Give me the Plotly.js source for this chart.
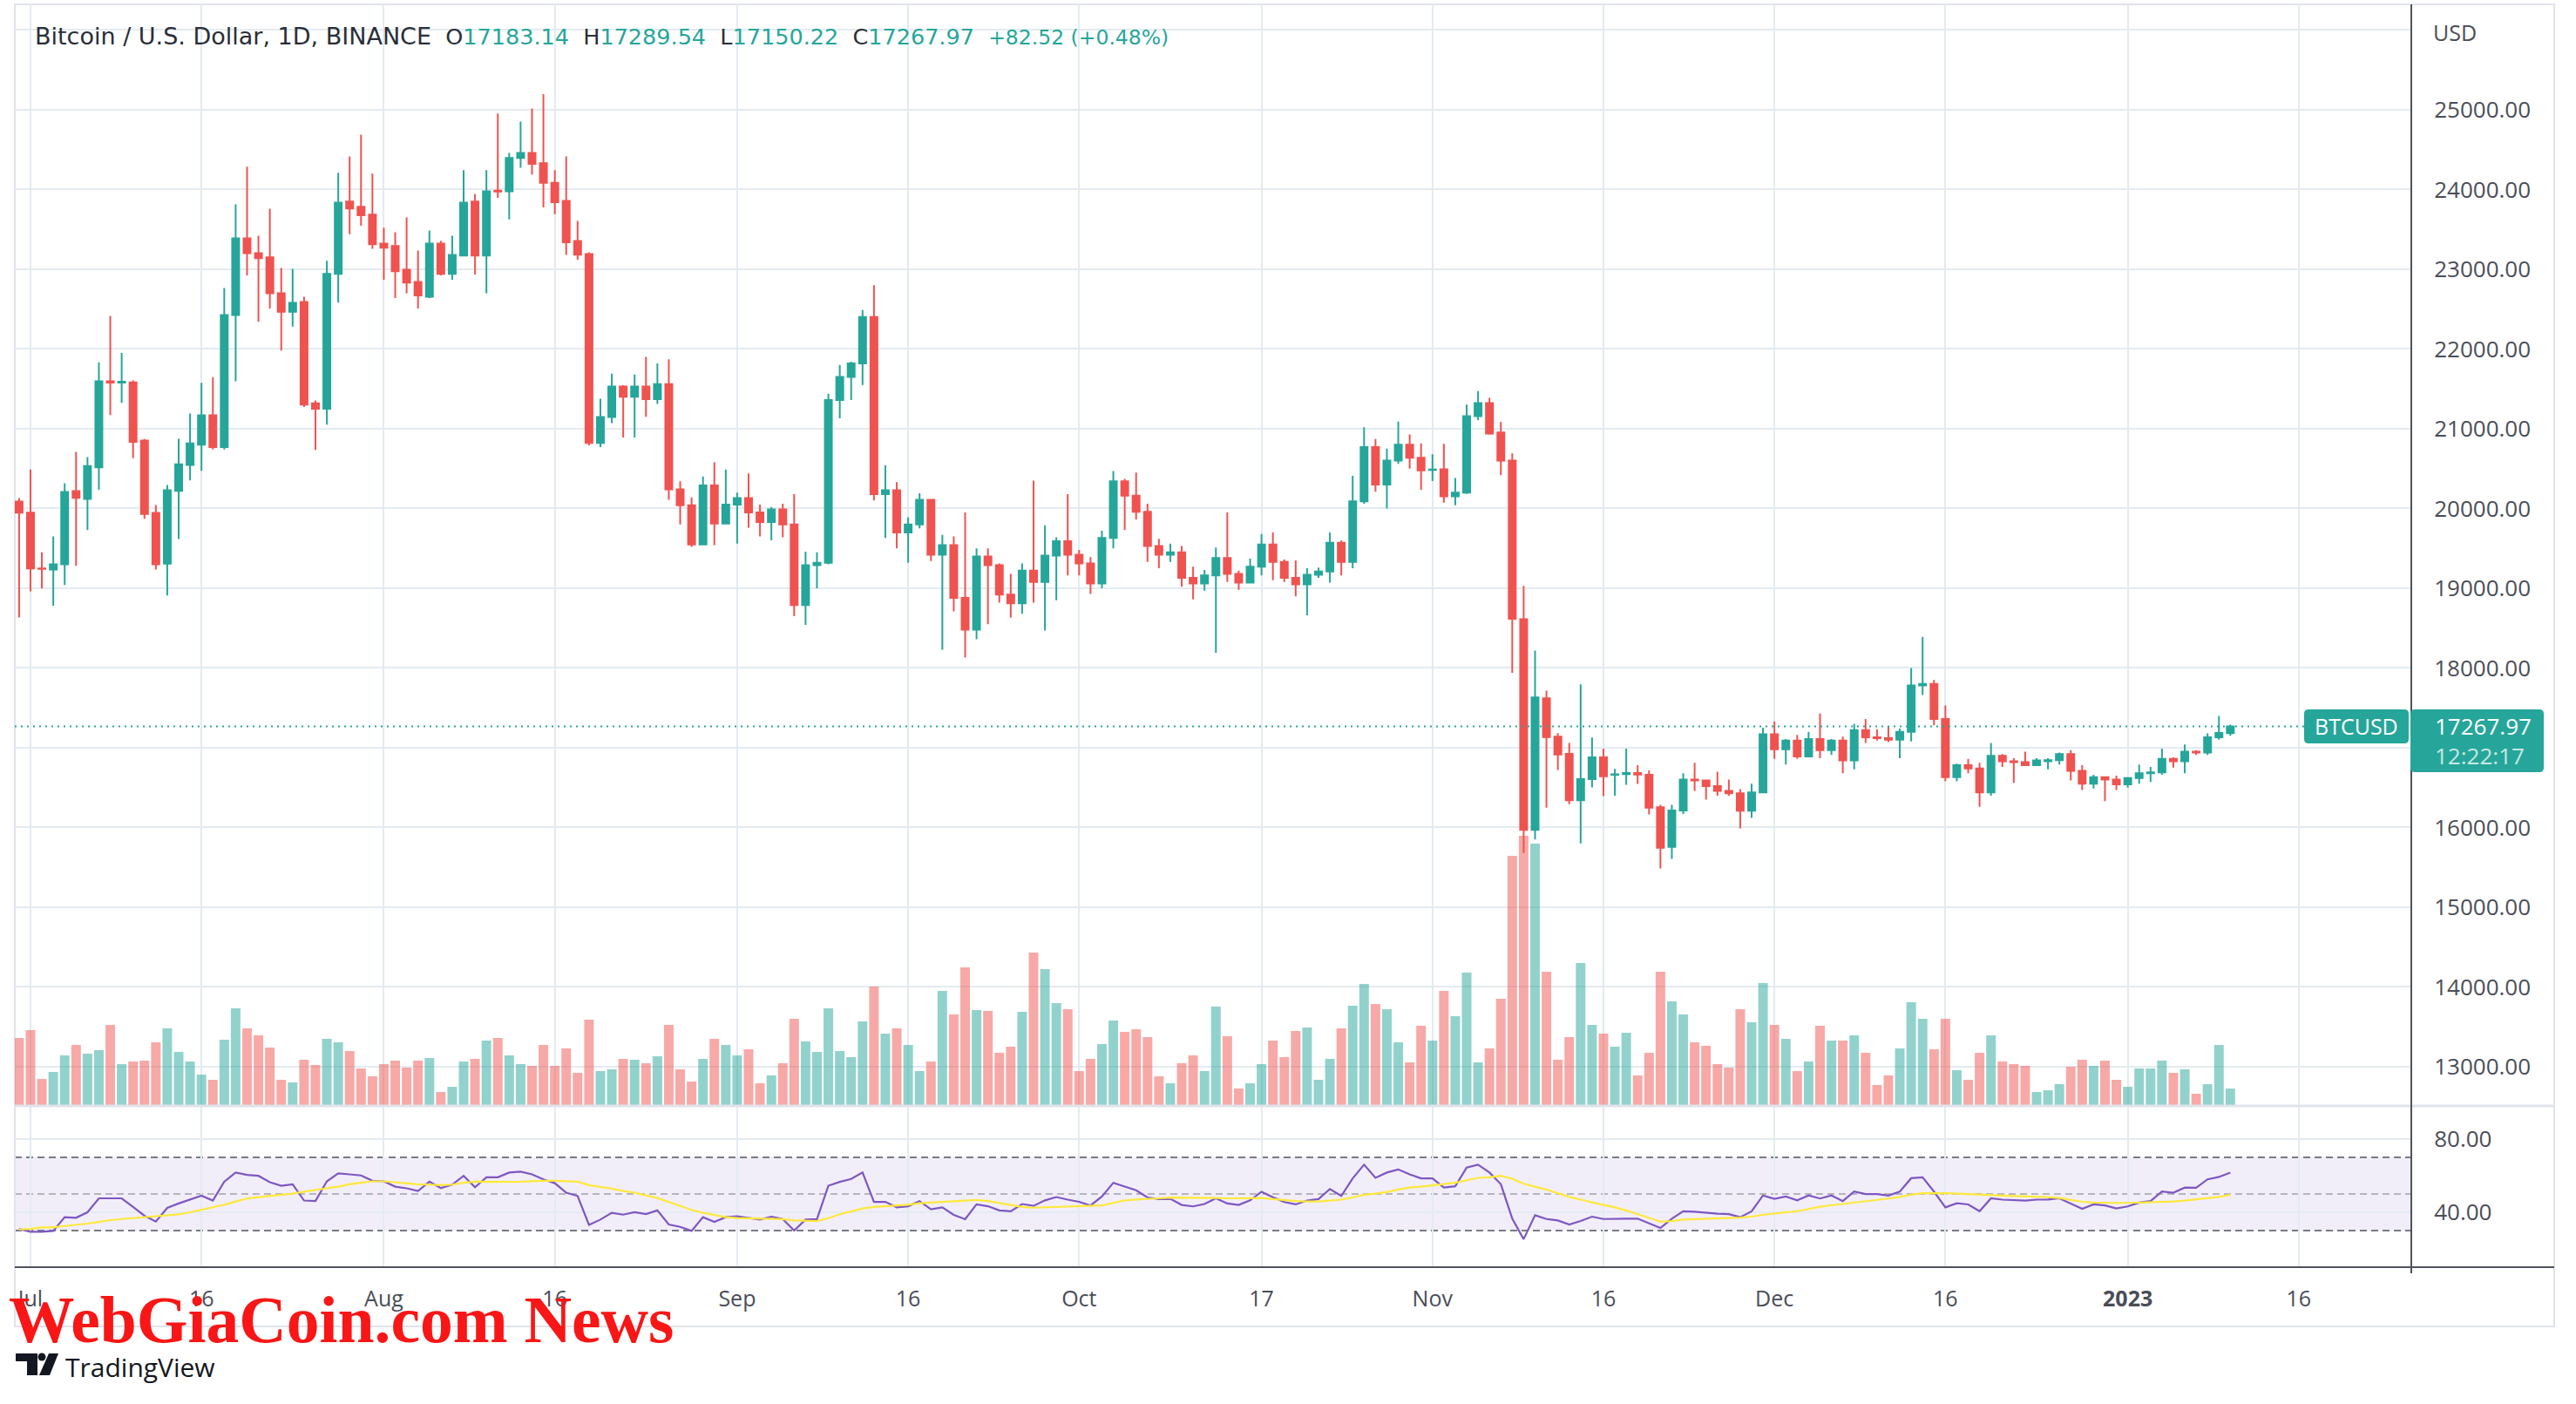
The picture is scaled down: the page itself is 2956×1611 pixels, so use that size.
<!DOCTYPE html>
<html>
<head>
<meta charset="utf-8">
<script src="https://cdn.plot.ly/plotly-3.0.1.min.js"></script>
<style>
  html, body { margin: 0; padding: 0; background: #fff; }
  #chart { width: 2956px; height: 1611px; }
</style>
</head>
<body>
<div id="chart"></div>
<script>
// daily BTCUSD candles, 2022-06-30 .. 2023-01-10 (one row of numbers per month)
const open = [
    20087,
    19949, 19249, 19235, 19300, 20217, 20121, 20515, 21596, 21580, 21583, 20852, 19944, 19308, 20221, 20545, 20800, 21168, 20770, 22427, 23387, 23201, 23149, 22699, 22466, 22591, 21320, 21250, 22941, 23850, 23785, 23685,
    23322, 23292, 22993, 22842, 22656, 23322, 22941, 23171, 23850, 23171, 23985, 23979, 24395, 24459, 24330, 24083, 23858, 23356, 23192, 20822, 21146, 21530, 21400, 21530, 21370, 21560, 20240, 20040, 19550, 20290, 19810,
    20050, 20130, 19950, 19830, 19990, 19800, 18790, 19290, 19320, 21360, 21650, 21820, 22400, 20180, 20230, 19700, 19800, 20110, 19420, 19540, 18880, 18480, 19400, 19290, 18920, 18810, 19220, 19080, 19410, 19590,
    19420, 19310, 19060, 19630, 20340, 20160, 19960, 19530, 19420, 19450, 19130, 19060, 19160, 19380, 19180, 19070, 19270, 19550, 19330, 19130, 19050, 19170, 19210, 19570, 19330, 20090, 20770, 20300, 20600, 20800, 20636,
    20482, 20491, 20152, 20200, 21158, 21321, 20952, 20600, 18612, 15970, 17619, 17140, 16922, 16340, 16607, 16879, 16660, 16670, 16682, 16661, 16255, 15758, 16213, 16600, 16590, 16520, 16460, 16430, 16210, 16440,
    17170, 16980, 17090, 16890, 17110, 16970, 17090, 16840, 17220, 17130, 17120, 17100, 17200, 17780, 17800, 17360, 16630, 16780, 16740, 16440, 16900, 16830, 16820, 16780, 16830, 16845, 16920, 16710, 16550, 16630, 16600,
    16540, 16620, 16680, 16690, 16860, 16830, 16950, 16940, 17130, 17183.14
]
const high = [
    20130,
    20489, 19451, 19650, 20316, 20710, 20645, 21834, 22414, 21951, 21605, 20870, 20044, 20294, 20874, 21190, 21575, 21648, 22765, 23815, 24286, 23421, 23759, 23015, 23006, 22656, 21354, 23106, 24209, 24416, 24689, 24200,
    23521, 23465, 23651, 23235, 23486, 23357, 23421, 24243, 23945, 24243, 24952, 24459, 24853, 25017, 25195, 24243, 24416, 23607, 23214, 21376, 21690, 21545, 21680, 21900, 21820, 21870, 20340, 20140, 20400, 20580, 20490,
    20200, 20440, 20050, 20020, 20060, 20180, 19460, 19450, 21440, 21800, 21840, 22490, 22800, 20540, 20330, 19890, 20190, 20110, 19670, 19650, 19950, 19500, 19500, 19310, 19180, 19310, 20350, 19790, 19640, 20180,
    19480, 19390, 19720, 20470, 20370, 20450, 20060, 19620, 19560, 19530, 19270, 19230, 19510, 19950, 19220, 19370, 19680, 19700, 19360, 19350, 19250, 19260, 19700, 19600, 20410, 21020, 20870, 20750, 21090, 20930, 20818,
    20679, 20812, 20382, 21303, 21473, 21388, 21085, 20691, 19030, 18218, 17716, 17182, 17061, 17794, 17128, 16988, 16734, 16988, 16782, 16716, 16285, 16285, 16680, 16810, 16600, 16700, 16600, 16480, 16550, 17250,
    17330, 17110, 17160, 17200, 17430, 17110, 17140, 17300, 17360, 17230, 17270, 17240, 18000, 18390, 17850, 17530, 16800, 16860, 16810, 17060, 16920, 16870, 16950, 16870, 16870, 16940, 16970, 16780, 16660, 16640, 16650,
    16630, 16790, 16760, 16990, 16880, 17040, 16970, 17180, 17400, 17289.54
]
const low = [
    18633,
    18962, 18997, 18781, 19040, 19282, 19728, 20234, 21172, 21324, 20632, 19870, 19235, 18910, 19616, 20351, 20472, 20740, 20740, 21596, 22924, 22340, 22509, 21981, 22280, 21272, 20735, 21051, 22582, 23439, 23547, 23257,
    22868, 22639, 22699, 22509, 22639, 22924, 22868, 23162, 22933, 22699, 23897, 23625, 24273, 24187, 23776, 23690, 23179, 23119, 20792, 20770, 21070, 20890, 20890, 21150, 21310, 20110, 19800, 19520, 19540, 19540, 19800,
    19560, 19760, 19650, 19600, 19640, 18650, 18540, 19000, 19300, 21130, 21360, 21550, 20100, 19630, 19500, 19320, 19750, 19340, 18230, 18710, 18130, 18360, 18550, 18820, 18630, 18680, 18820, 18470, 18850, 19160,
    19160, 18930, 19000, 19500, 19730, 19860, 19330, 19250, 19330, 19020, 18860, 18970, 18190, 19080, 18980, 19070, 19160, 19100, 19080, 18900, 18660, 19130, 19070, 19160, 19250, 20060, 20210, 20000, 20560, 20500, 20236,
    20345, 20073, 20042, 20182, 21109, 20927, 20418, 17940, 15680, 15849, 16249, 16722, 16291, 15800, 16503, 16394, 16400, 16534, 16546, 16164, 15485, 15607, 16170, 16460, 16350, 16400, 16400, 15990, 16120, 16440,
    16860, 16790, 16860, 16880, 16870, 16910, 16680, 16730, 17060, 17090, 17070, 16870, 17080, 17660, 17280, 16580, 16580, 16680, 16260, 16400, 16760, 16560, 16770, 16780, 16730, 16790, 16590, 16470, 16490, 16330, 16470,
    16500, 16550, 16570, 16660, 16750, 16680, 16910, 16910, 17100, 17150.22
]
const close = [
    19949,
    19248, 19243, 19300, 20208, 20134, 20532, 21596, 21580, 21590, 20835, 19931, 19300, 20230, 20554, 20818, 21168, 20770, 22427, 23387, 23201, 23140, 22699, 22466, 22578, 21302, 21250, 22941, 23837, 23763, 23677, 23313,
    23270, 22976, 22833, 22673, 23322, 22941, 23179, 23837, 23171, 23979, 23975, 24395, 24459, 24321, 24083, 23841, 23339, 23183, 20822, 21146, 21530, 21400, 21530, 21370, 21560, 20240, 20040, 19550, 20290, 19810, 20050,
    20130, 19950, 19830, 19990, 19800, 18790, 19290, 19320, 21360, 21650, 21820, 22400, 20180, 20230, 19700, 19800, 20110, 19420, 19540, 18880, 18480, 19400, 19290, 18920, 18810, 19220, 19080, 19410, 19590, 19420,
    19310, 19060, 19630, 20340, 20160, 19960, 19530, 19420, 19450, 19130, 19060, 19160, 19380, 19180, 19070, 19270, 19550, 19330, 19130, 19050, 19170, 19210, 19570, 19330, 20090, 20770, 20300, 20600, 20800, 20636, 20479,
    20488, 20152, 20200, 21158, 21321, 20939, 20600, 18618, 15970, 17631, 17134, 16916, 16340, 16607, 16879, 16643, 16667, 16682, 16665, 16249, 15746, 16213, 16600, 16590, 16520, 16460, 16430, 16210, 16440, 17170,
    16980, 17090, 16890, 17110, 16970, 17090, 16840, 17220, 17130, 17120, 17100, 17200, 17780, 17800, 17360, 16630, 16780, 16740, 16440, 16900, 16830, 16820, 16780, 16840, 16845, 16920, 16710, 16550, 16630, 16600, 16540,
    16620, 16680, 16690, 16860, 16830, 16950, 16940, 17130, 17185.45, 17267.97
]
// volume, read as bar height in screen px above the pane bottom (unlabelled scale)
const volume = [
    77,
    86, 30, 38, 57, 69, 59, 63, 92, 47, 50, 51, 72, 88, 61, 50, 35, 29, 75, 111, 88, 80, 66, 29, 26, 52, 46, 76, 72, 62, 42, 33,
    47, 51, 43, 51, 54, 15, 21, 50, 53, 74, 77, 57, 47, 45, 69, 45, 65, 37, 98, 39, 41, 53, 52, 48, 56, 92, 41, 27, 53, 76, 69,
    57, 64, 25, 34, 48, 99, 73, 61, 111, 62, 55, 96, 136, 82, 88, 69, 39, 50, 131, 104, 158, 109, 108, 60, 67, 107, 175, 156, 117, 110,
    39, 53, 70, 97, 84, 87, 78, 33, 25, 48, 57, 39, 113, 79, 19, 25, 47, 74, 55, 85, 89, 29, 53, 88, 114, 139, 116, 110, 72, 49, 91,
    74, 131, 102, 152, 49, 65, 122, 286, 309, 300, 153, 52, 78, 163, 92, 82, 67, 83, 34, 60, 153, 119, 104, 72, 68, 47, 43, 110, 95, 140,
    92, 76, 39, 50, 91, 74, 74, 80, 60, 23, 34, 65, 118, 99, 64, 99, 40, 29, 60, 80, 50, 47, 45, 15, 17, 24, 44, 52, 45, 51, 29,
    21, 42, 42, 51, 37, 41, 13, 24, 69, 19
]
const rsi = [
    30.9,
    29.3, 29.3, 29.8, 37.3, 37.0, 40.0, 47.6, 47.6, 47.6, 42.9, 38.1, 34.9, 42.4, 44.8, 46.9, 49.1, 46.4, 56.7, 61.7, 60.4, 59.9, 56.4, 54.5, 55.3, 46.4, 46.1, 56.9, 61.2, 60.7, 60.1, 57.2,
    56.9, 54.0, 53.1, 51.6, 56.7, 53.2, 55.1, 59.9, 53.7, 59.1, 59.1, 61.7, 62.2, 60.7, 58.0, 55.9, 50.7, 48.9, 33.1, 36.0, 39.7, 38.7, 40.0, 39.0, 41.0, 33.3, 32.0, 29.8, 37.3, 34.7, 37.3,
    37.8, 37.0, 36.0, 37.5, 36.3, 30.0, 36.0, 36.2, 54.5, 56.6, 58.2, 61.7, 45.6, 45.7, 42.7, 43.3, 46.1, 41.6, 42.7, 38.6, 36.2, 44.3, 43.3, 41.0, 40.5, 44.5, 43.5, 46.5, 48.3, 46.9,
    45.7, 43.7, 48.6, 56.1, 54.0, 52.0, 48.1, 47.2, 47.3, 44.0, 43.2, 44.5, 47.6, 44.8, 44.0, 46.5, 51.2, 48.2, 45.6, 44.3, 46.4, 47.2, 52.7, 48.9, 58.5, 66.0, 58.8, 61.7, 63.4, 60.7, 58.5,
    58.5, 53.5, 54.2, 64.4, 66.0, 61.7, 55.3, 36.5, 25.3, 38.4, 36.3, 35.5, 33.3, 35.2, 37.6, 36.3, 36.5, 36.5, 36.5, 33.9, 31.4, 36.5, 40.5, 40.3, 39.7, 39.2, 39.0, 37.3, 40.5, 49.2,
    47.3, 48.6, 46.5, 49.2, 47.5, 49.2, 46.1, 51.3, 49.9, 49.9, 49.1, 51.3, 58.6, 59.1, 51.3, 42.7, 44.9, 44.3, 40.6, 47.6, 46.9, 46.7, 46.4, 46.9, 47.0, 47.6, 44.8, 41.9, 44.3, 43.7, 42.1,
    43.2, 45.3, 46.1, 51.3, 50.7, 53.5, 53.4, 58.0, 59.3, 61.7
]
const rsiMa = [
    30.6,
    30.9, 31.7, 31.7, 32.5, 33.0, 33.8, 34.7, 35.7, 36.3, 36.8, 37.3, 37.6, 38.2, 38.9, 40.0, 41.4, 42.7, 44.1, 45.9, 47.5, 48.3, 48.9, 49.4, 50.2, 51.2, 52.0, 53.1, 54.0, 55.3, 56.1, 56.9,
    56.9, 56.3, 55.8, 55.3, 55.1, 54.8, 55.1, 56.1, 56.7, 56.6, 56.4, 56.6, 56.7, 57.1, 57.2, 57.2, 57.1, 56.7, 54.8, 53.9, 52.9, 51.6, 50.7, 49.2, 47.8, 45.6, 43.3, 41.3, 39.7, 38.4, 37.3,
    36.8, 36.7, 36.7, 36.5, 36.2, 35.5, 35.2, 35.2, 36.8, 38.9, 40.4, 42.1, 42.9, 43.3, 43.7, 44.1, 44.9, 45.3, 45.6, 46.1, 46.4, 46.7, 46.1, 45.1, 44.1, 42.9, 42.5, 42.7, 42.9, 43.0,
    43.0, 43.3, 43.7, 45.1, 46.5, 47.0, 47.2, 47.6, 48.0, 48.0, 48.0, 47.8, 47.8, 47.6, 47.6, 47.8, 47.8, 47.2, 46.5, 46.1, 45.9, 45.9, 46.4, 46.9, 48.1, 49.6, 50.2, 51.0, 52.4, 53.5, 54.0,
    54.7, 55.6, 56.1, 57.5, 58.8, 59.1, 59.9, 58.3, 55.6, 54.0, 52.4, 50.4, 48.4, 46.9, 45.3, 44.0, 42.7, 41.0, 38.9, 36.8, 34.9, 35.2, 36.0, 36.2, 36.3, 36.5, 36.8, 37.1, 37.6, 38.6,
    39.2, 39.8, 40.6, 41.8, 43.0, 43.8, 44.5, 45.4, 46.2, 46.9, 47.5, 48.4, 49.6, 50.4, 50.5, 50.4, 50.2, 49.9, 49.4, 49.2, 49.1, 48.9, 48.8, 48.4, 48.3, 47.8, 46.9, 45.7, 45.3, 45.1, 45.1,
    45.1, 45.3, 45.4, 45.6, 45.9, 46.4, 47.0, 47.6, 48.4, 49.6
]

const timeTicks = ['2022-07-01', '2022-07-16', '2022-08-01', '2022-08-16', '2022-09-01', '2022-09-16', '2022-10-01',
    '2022-10-17', '2022-11-01', '2022-11-16', '2022-12-01', '2022-12-16', '2023-01-01', '2023-01-16']
const timeLabels = ['Jul', '16', 'Aug', '16', 'Sep', '16', 'Oct', '17', 'Nov', '16', 'Dec', '16', '<b>2023</b>', '16']
const priceTicks = [13000, 14000, 15000, 16000, 17000, 18000, 19000, 20000, 21000, 22000, 23000, 24000, 25000, 26000]
const rsiTicks = [40, 80]

const UP = '#26a69a', DOWN = '#ef5350'
const GRID = '#e3ebf1'

// plot box in page pixels
const W = 2956, H = 1611
const L = 17, R = 2767, T = 5, B = 1454
function px(x) { return (x - L) / (R - L) }
function py(y) { return (B - y) / (B - T) }

const day0 = Date.UTC(2022, 5, 30)
const days = close.map((_, i) => new Date(day0 + i * 86400000).toISOString().slice(0, 10))
const volColors = close.map((c, i) => c >= open[i] ? 'rgba(38,166,154,0.5)' : 'rgba(239,83,80,0.5)')

const last = close.length - 1
const change = close[last] - close[last - 1]
const changePct = change / close[last - 1] * 100

function roundBox(x0, y0, x1, y1, r) {
    const P = (x, y) => px(x) + ',' + py(y)
    return 'M' + P(x0 + r, y0) + ' L' + P(x1 - r, y0) + ' Q' + P(x1, y0) + ' ' + P(x1, y0 + r) +
        ' L' + P(x1, y1 - r) + ' Q' + P(x1, y1) + ' ' + P(x1 - r, y1) +
        ' L' + P(x0 + r, y1) + ' Q' + P(x0, y1) + ' ' + P(x0, y1 - r) +
        ' L' + P(x0, y0 + r) + ' Q' + P(x0, y0) + ' ' + P(x0 + r, y0) + ' Z'
}
function poly(points) {
    return 'M' + points.map(p => px(p[0]) + ',' + py(p[1])).join(' L') + ' Z'
}
function hline(y, yref, color, dash, layer) {
    return {type: 'line', xref: 'paper', x0: 0, x1: 1, yref: yref, y0: y, y1: y,
        line: {color: color, width: 2, dash: dash}, layer: layer}
}

const traces = [
    {
        type: 'bar', x: days, y: volume, xaxis: 'x', yaxis: 'y',
        marker: {color: volColors, line: {width: 0}}, hoverinfo: 'skip'
    },
    {
        type: 'candlestick', x: days, open: open, high: high, low: low, close: close,
        xaxis: 'x', yaxis: 'y3',
        increasing: {line: {color: UP, width: 2}, fillcolor: UP},
        decreasing: {line: {color: DOWN, width: 2}, fillcolor: DOWN},
        whiskerwidth: 0, hoverinfo: 'skip'
    },
    {
        type: 'scatter', mode: 'lines', x: days, y: rsi, xaxis: 'x', yaxis: 'y2',
        line: {color: '#7e57c2', width: 2.2}, hoverinfo: 'skip'
    },
    {
        type: 'scatter', mode: 'lines', x: days, y: rsiMa, xaxis: 'x', yaxis: 'y2',
        line: {color: '#fde93b', width: 2.2}, hoverinfo: 'skip'
    }
]

const gap = '&nbsp;&nbsp;'
const teal = s => '<span style="color:' + UP + '">' + s + '</span>'
const header = '<span style="font-size:27px">Bitcoin / U.S. Dollar, 1D, BINANCE</span>' +
    gap + 'O' + teal(open[last].toFixed(2)) +
    gap + 'H' + teal(high[last].toFixed(2)) +
    gap + 'L' + teal(low[last].toFixed(2)) +
    gap + 'C' + teal(close[last].toFixed(2)) +
    '&nbsp; <span style="color:' + UP + ';font-size:23.5px">+' + change.toFixed(2) +
    ' (+' + changePct.toFixed(2) + '%)</span>'

const layout = {
    width: W, height: H,
    margin: {l: L, r: W - R, t: T, b: H - B},
    paper_bgcolor: '#ffffff', plot_bgcolor: '#ffffff',
    showlegend: false,
    bargap: 0.16,
    boxgap: 0.39, boxgroupgap: 0,
    font: {family: 'Open Sans, sans-serif', size: 25, color: '#4a4d57'},
    xaxis: {
        type: 'date', anchor: 'y2',
        range: ['2022-06-29 15:00', '2023-01-25 21:00'],
        tickmode: 'array', tickvals: timeTicks, ticktext: timeLabels,
        ticks: 'outside', ticklen: 14, tickcolor: 'rgba(0,0,0,0)',
        showgrid: true, gridcolor: GRID, gridwidth: 2,
        showline: false, zeroline: false,
        rangeslider: {visible: false}, fixedrange: true
    },
    yaxis: {
        domain: [py(1268), 1], anchor: 'x',
        range: [0, 1263], visible: false, showgrid: false, fixedrange: true
    },
    yaxis3: {
        overlaying: 'y', anchor: 'x', side: 'right',
        range: [12519, 26322],
        tickmode: 'array', tickvals: priceTicks,
        ticktext: priceTicks.map(v => v > 25000 ? '' : v.toFixed(2)),
        ticks: 'outside', ticklen: 20, tickcolor: 'rgba(0,0,0,0)',
        tickfont: {size: 26},
        showgrid: true, gridcolor: GRID, gridwidth: 2,
        showline: false, zeroline: false, fixedrange: true
    },
    yaxis2: {
        domain: [0, py(1270)], anchor: 'x', side: 'right',
        range: [10, 97.6],
        tickmode: 'array', tickvals: rsiTicks, ticktext: rsiTicks.map(v => v.toFixed(2)),
        ticks: 'outside', ticklen: 20, tickcolor: 'rgba(0,0,0,0)',
        tickfont: {size: 26},
        showgrid: true, gridcolor: GRID, gridwidth: 2,
        showline: false, zeroline: false, fixedrange: true
    },
    shapes: [
        // RSI band and levels
        {type: 'rect', xref: 'paper', x0: 0, x1: 1, yref: 'y2', y0: 30, y1: 70,
            fillcolor: 'rgba(126,87,194,0.1)', line: {width: 0}, layer: 'below'},
        hline(70, 'y2', '#787b86', '8px,5px', 'between'),
        hline(50, 'y2', 'rgba(120,123,134,0.5)', '8px,5px', 'between'),
        hline(30, 'y2', '#787b86', '8px,5px', 'between'),
        // last price line
        hline(close[last], 'y3', UP, '2px,5px', 'above'),
        // frame, pane separator and scale lines
        {type: 'rect', xref: 'paper', yref: 'paper', x0: px(17), x1: px(2931), y0: py(1522), y1: py(5),
            line: {color: '#e0e3eb', width: 2}, layer: 'below'},
        {type: 'line', xref: 'paper', yref: 'paper', x0: 0, x1: px(2931), y0: py(1269), y1: py(1269),
            line: {color: '#e0e3eb', width: 3}},
        {type: 'line', xref: 'paper', yref: 'paper', x0: 1, x1: 1, y0: py(5), y1: py(1461),
            line: {color: '#50535e', width: 2}},
        {type: 'line', xref: 'paper', yref: 'paper', x0: 0, x1: px(2931), y0: 0, y1: 0,
            line: {color: '#50535e', width: 2}},
        // price scale badges
        {type: 'path', xref: 'paper', yref: 'paper', path: roundBox(2644, 814, 2764, 853, 5),
            fillcolor: UP, line: {width: 0}},
        {type: 'path', xref: 'paper', yref: 'paper', path: roundBox(2766, 814, 2919, 886, 5),
            fillcolor: UP, line: {width: 0}},
        // TradingView mark
        {type: 'path', xref: 'paper', yref: 'paper',
            path: poly([[18, 1553], [43, 1553], [43, 1578], [31, 1578], [31, 1562], [18, 1562]]),
            fillcolor: '#131722', line: {width: 0}},
        {type: 'circle', xref: 'paper', yref: 'paper', x0: px(43.5), x1: px(52.5), y0: py(1561.5), y1: py(1552.5),
            fillcolor: '#131722', line: {width: 0}},
        {type: 'path', xref: 'paper', yref: 'paper',
            path: poly([[56, 1553], [67, 1553], [57, 1578], [45, 1578]]),
            fillcolor: '#131722', line: {width: 0}}
    ],
    annotations: [
        {xref: 'paper', yref: 'paper', x: px(38), y: py(41), xanchor: 'left', yanchor: 'middle',
            text: header, showarrow: false,
            font: {family: 'DejaVu Sans, sans-serif', size: 25.5, color: '#2a2e39'}},
        {xref: 'paper', yref: 'paper', x: px(2790), y: py(37), xanchor: 'left', yanchor: 'middle',
            text: 'USD', showarrow: false, font: {size: 25, color: '#4a4d57'}},
        {xref: 'paper', yref: 'paper', x: px(2704), y: py(833), xanchor: 'center', yanchor: 'middle',
            text: 'BTCUSD', showarrow: false, font: {size: 25, color: '#ffffff'}},
        {xref: 'paper', yref: 'paper', x: px(2849), y: py(833), xanchor: 'center', yanchor: 'middle',
            text: close[last].toFixed(2), showarrow: false, font: {size: 26, color: '#ffffff'}},
        {xref: 'paper', yref: 'paper', x: px(2845), y: py(867), xanchor: 'center', yanchor: 'middle',
            text: '12:22:17', showarrow: false, font: {size: 26, color: 'rgba(255,255,255,0.75)'}},
        {xref: 'paper', yref: 'paper', x: px(8), y: py(1514), xanchor: 'left', yanchor: 'middle',
            text: '<b>WebGiaCoin.com News</b>', showarrow: false,
            font: {family: 'Liberation Serif, serif', size: 75.5, color: '#f81616'}},
        {xref: 'paper', yref: 'paper', x: px(73), y: py(1568), xanchor: 'left', yanchor: 'middle',
            text: 'TradingView', showarrow: false, font: {size: 30, color: '#131722'}}
    ]
}

Plotly.newPlot('chart', traces, layout, {staticPlot: true, displayModeBar: false})
</script>
</body>
</html>
